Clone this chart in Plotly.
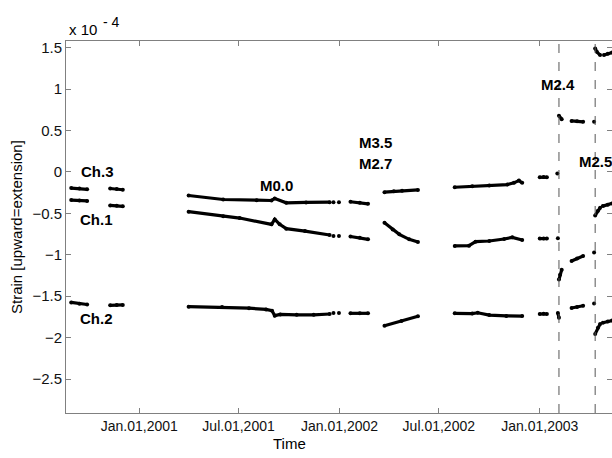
import plotly.graph_objects as go

# ---------------- data (strain in units of 1e-4) ----------------
ch3_dates = ["2000-08-30", "2000-09-14", "2000-09-28", None,
             "2000-11-09", "2000-11-21", "2000-12-02", None,
             "2001-04-01", "2001-06-03", "2001-08-03", "2001-08-30", "2001-09-05", "2001-09-26", "2001-11-01", "2001-12-14", None,
             "2001-12-21", None, "2001-12-31", None,
             "2002-01-21", "2002-02-07", "2002-02-22", None,
             "2002-03-24", "2002-04-10", "2002-04-25", "2002-05-24", None,
             "2002-07-30", "2002-08-31", "2002-10-01", "2002-11-03", "2002-11-15", "2002-11-24", "2002-11-30", None,
             "2003-01-01", "2003-01-08", "2003-01-14", None,
             "2003-02-02", None,
             "2003-02-05", "2003-02-10", None,
             "2003-02-28", "2003-03-10", "2003-03-21", None,
             "2003-04-10", None,
             "2003-04-12", "2003-04-15", "2003-04-21", None,
             "2003-04-28", "2003-05-05", "2003-05-13"]
ch3_vals = [-0.195, -0.20, -0.21, None,
            -0.20, -0.205, -0.215, None,
            -0.285, -0.333, -0.341, -0.345, -0.321, -0.373, -0.368, -0.365, None,
            -0.365, None, -0.365, None,
            -0.36, -0.372, -0.385, None,
            -0.245, -0.235, -0.228, -0.218, None,
            -0.185, -0.173, -0.165, -0.153, -0.132, -0.105, -0.132, None,
            -0.065, -0.062, -0.065, None,
            -0.02, None,
            0.677, 0.637, None,
            0.615, 0.61, 0.605, None,
            0.605, None,
            1.49, 1.45, 1.41, None,
            1.41, 1.425, 1.44]

ch1_dates = ["2000-08-30", "2000-09-14", "2000-09-28", None,
             "2000-11-09", "2000-11-21", "2000-12-02", None,
             "2001-04-01", "2001-06-03", "2001-07-03", "2001-08-30", "2001-09-05", "2001-09-14", "2001-09-26", "2001-10-30", "2001-12-14", None,
             "2001-12-21", None, "2001-12-31", None,
             "2002-01-21", "2002-02-07", "2002-02-22", None,
             "2002-03-24", "2002-04-08", "2002-04-20", "2002-05-08", "2002-05-24", None,
             "2002-07-30", "2002-08-25", "2002-09-06", "2002-10-01", "2002-10-28", "2002-11-12", "2002-11-30", None,
             "2003-01-01", "2003-01-08", "2003-01-14", None,
             "2003-02-03", None,
             "2003-02-05", "2003-02-07", "2003-02-10", None,
             "2003-02-28", "2003-03-10", "2003-03-21", None,
             "2003-04-10", None,
             "2003-04-12", "2003-04-17", "2003-04-21", None,
             "2003-04-26", "2003-05-05", "2003-05-13"]
ch1_vals = [-0.34, -0.345, -0.35, None,
            -0.405, -0.41, -0.415, None,
            -0.48, -0.534, -0.557, -0.633, -0.573, -0.633, -0.685, -0.714, -0.762, None,
            -0.774, None, -0.774, None,
            -0.78, -0.795, -0.814, None,
            -0.613, -0.694, -0.754, -0.814, -0.846, None,
            -0.894, -0.89, -0.842, -0.834, -0.81, -0.79, -0.822, None,
            -0.805, -0.805, -0.805, None,
            -0.80, None,
            -1.30, -1.24, -1.18, None,
            -1.075, -1.045, -1.015, None,
            -0.974, None,
            -0.525, -0.47, -0.433, None,
            -0.413, -0.395, -0.38]

ch2_dates = ["2000-08-30", "2000-09-14", "2000-09-28", None,
             "2000-11-09", "2000-11-21", "2000-12-02", None,
             "2001-04-01", "2001-06-01", "2001-07-20", "2001-08-20", "2001-08-31", "2001-09-05", "2001-09-15", "2001-10-15", "2001-11-15", "2001-12-14", None,
             "2001-12-21", None, "2001-12-31", None,
             "2002-01-21", "2002-02-07", "2002-02-22", None,
             "2002-03-24", "2002-04-24", "2002-05-24", None,
             "2002-07-30", "2002-08-31", "2002-09-10", "2002-10-01", "2002-11-01", "2002-11-30", None,
             "2003-01-01", "2003-01-08", "2003-01-14", None,
             "2003-02-03", "2003-02-05", None,
             "2003-02-28", "2003-03-10", "2003-03-21", None,
             "2003-04-10", None,
             "2003-04-12", "2003-04-17", "2003-04-21", None,
             "2003-04-26", "2003-05-05", "2003-05-13"]
ch2_vals = [-1.575, -1.59, -1.60, None,
            -1.61, -1.605, -1.605, None,
            -1.627, -1.632, -1.645, -1.66, -1.675, -1.735, -1.72, -1.725, -1.725, -1.715, None,
            -1.703, None, -1.703, None,
            -1.707, -1.707, -1.707, None,
            -1.856, -1.80, -1.743, None,
            -1.707, -1.71, -1.70, -1.728, -1.738, -1.74, None,
            -1.715, -1.712, -1.715, None,
            -1.703, -1.76, None,
            -1.643, -1.63, -1.615, None,
            -1.587, None,
            -1.955, -1.88, -1.835, None,
            -1.82, -1.805, -1.795]

quake_dates = ["2003-02-05", "2003-04-12"]

x_tick_vals = ["2001-01-01", "2001-07-01", "2002-01-01", "2002-07-01", "2003-01-01"]
x_tick_text = ["Jan.01,2001", "Jul.01,2001", "Jan.01,2002", "Jul.01,2002", "Jan.01,2003"]
y_tick_vals = [-2.5, -2, -1.5, -1, -0.5, 0, 0.5, 1, 1.5]
y_tick_text = ["\u22122.5", "\u22122", "\u22121.5", "\u22121", "\u22120.5", "0", "0.5", "1", "1.5"]

labels = ["Ch.3", "Ch.1", "Ch.2", "M0.0", "M3.5", "M2.7", "M2.4", "M2.5"]
label_dates = ["2000-09-13", "2000-09-12", "2000-09-11", "2001-08-05", "2002-02-02", "2002-02-02", "2002-12-30", "2003-03-09"]
label_vals = [0.0, -0.573, -1.775, -0.16, 0.356, 0.10, 1.049, 0.127]

# ---------------- figure ----------------
FONT = "Arial, Liberation Sans, sans-serif"
fig = go.Figure()
for d, v in [(ch3_dates, ch3_vals), (ch1_dates, ch1_vals), (ch2_dates, ch2_vals)]:
    fig.add_trace(go.Scatter(x=d, y=v, mode="lines+markers",
                             line=dict(color="black", width=3.2),
                             marker=dict(color="black", size=4),
                             connectgaps=False, showlegend=False,
                             hoverinfo="skip", cliponaxis=True))

for q in quake_dates:
    fig.add_shape(type="line", xref="x", yref="paper", x0=q, x1=q, y0=0, y1=1,
                  line=dict(color="#555555", width=1, dash="dash"))

for t, d, v in zip(labels, label_dates, label_vals):
    fig.add_annotation(x=d, y=v, xref="x", yref="y", text="<b>%s</b>" % t,
                       showarrow=False, xanchor="left", yanchor="middle",
                       font=dict(family=FONT, size=15, color="black"))

fig.add_annotation(x=1 / 546, y=(413 - 29.5) / 372, xref="paper", yref="paper",
                   text="x 10", showarrow=False, xanchor="left", yanchor="middle",
                   font=dict(family=FONT, size=15, color="black"))
fig.add_annotation(x=(101 - 66) / 546, y=(413 - 22) / 372, xref="paper", yref="paper",
                   text="- 4", showarrow=False, xanchor="left", yanchor="middle",
                   font=dict(family=FONT, size=14, color="black"))
fig.add_annotation(x=(16 - 66) / 546, y=0.5, xref="paper", yref="paper",
                   text="Strain [upward=extension]", textangle=-90, showarrow=False,
                   xanchor="center", yanchor="middle",
                   font=dict(family=FONT, size=15, color="black"))
fig.add_annotation(x=(289.5 - 66) / 546, y=(413 - 443) / 372, xref="paper", yref="paper",
                   text="Time", showarrow=False, xanchor="center", yanchor="middle",
                   font=dict(family=FONT, size=15, color="black"))

fig.update_layout(
    width=612, height=458,
    margin=dict(l=66, r=0, t=41, b=45),
    paper_bgcolor="white", plot_bgcolor="white",
    font=dict(family=FONT, size=14, color="black"),
    xaxis=dict(type="date", range=["2000-08-20 12:00", "2003-05-12 16:00"],
               tickmode="array", tickvals=x_tick_vals, ticktext=x_tick_text,
               ticks="inside", ticklen=5, tickcolor="#808080",
               showline=True, linecolor="#808080", linewidth=1, mirror="ticks",
               showgrid=False, zeroline=False, tickfont=dict(size=14, color="#111111")),
    yaxis=dict(range=[-2.91, 1.58], tickmode="array", tickvals=y_tick_vals, ticktext=y_tick_text,
               ticks="inside", ticklen=5, tickcolor="#808080",
               showline=True, linecolor="#808080", linewidth=1, mirror="ticks",
               showgrid=False, zeroline=False, tickfont=dict(size=15, color="#111111")),
)

fig.write_html("out.html")
